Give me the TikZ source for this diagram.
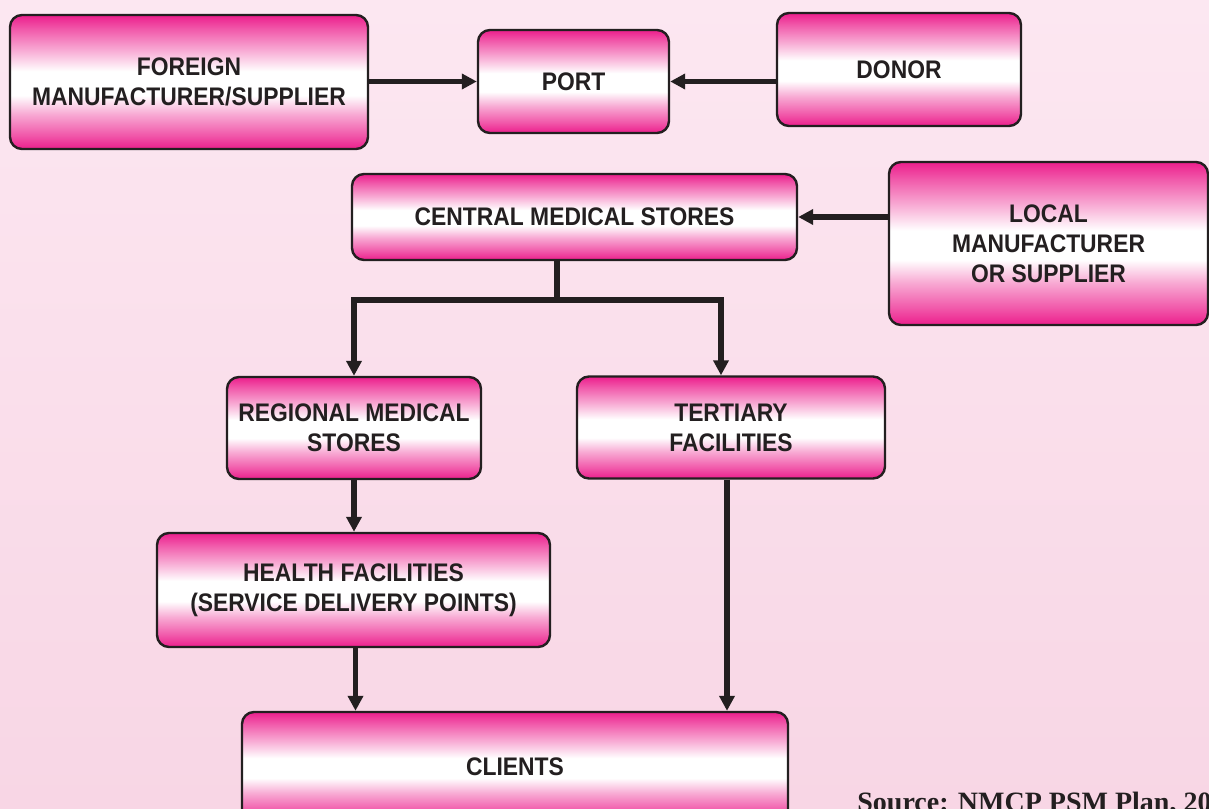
\documentclass[tikz,border=0pt]{standalone}
\usepackage{fontspec}
\setmainfont{Liberation Serif}
\newfontfamily\boxfamily[FakeStretch=0.9]{Liberation Sans}
\usetikzlibrary{arrows.meta}

\definecolor{boxpink}{RGB}{236,30,140}
\definecolor{outline}{RGB}{35,31,32}
\definecolor{bgtop}{RGB}{252,231,241}
\definecolor{bgbot}{RGB}{248,214,229}
\colorlet{pinkdeep}{boxpink!75!white}
\colorlet{pinkpale}{boxpink!38!white}

% pink - white - pink band used inside every box
\pgfdeclareverticalshading{pinkbar}{100bp}{color(0bp)=(boxpink); color(25bp)=(boxpink);
  color(30bp)=(pinkdeep); color(38bp)=(pinkpale); color(45bp)=(white); color(54bp)=(white);
  color(62bp)=(pinkpale); color(70bp)=(pinkdeep); color(75bp)=(boxpink); color(100bp)=(boxpink)}

\tikzset{
  stage/.style={draw=outline, line width=1.2pt, rounded corners=6pt, shading=pinkbar,
    inner sep=0pt, align=center, text=outline,
    font=\boxfamily\bfseries\fontsize{12.7}{15}\selectfont},
  link/.style={draw=outline, line width=2.6pt},
  flow/.style={link, -{Triangle[length=7.5pt,width=7.5pt]}},
}

\begin{document}
\begin{tikzpicture}[x=0.5pt,y=-0.5pt]
  % page
  \useasboundingbox (0,0) rectangle (1209,808);
  \shade[top color=bgtop, bottom color=bgbot] (0,0) rectangle (1209,808);

  % supply sources
  \node[stage, minimum width=179pt, minimum height=67pt] (foreign) at (189,82)
    {FOREIGN\\MANUFACTURER/SUPPLIER};
  \node[stage, minimum width=95.5pt, minimum height=51.5pt] (port) at (573.5,81.5) {PORT};
  \node[stage, minimum width=122pt, minimum height=56.5pt] (donor) at (899,69.5) {DONOR};
  \node[stage, minimum width=222.5pt, minimum height=43pt] (central) at (574.5,217)
    {CENTRAL MEDICAL STORES};
  \node[stage, minimum width=159.5pt, minimum height=81.5pt] (local) at (1048.5,243.5)
    {LOCAL\\MANUFACTURER\\OR SUPPLIER};

  % distribution levels
  \node[stage, minimum width=127pt, minimum height=51pt] (regional) at (354,428)
    {REGIONAL MEDICAL\\STORES};
  \node[stage, minimum width=154pt, minimum height=51pt] (tertiary) at (731,427.5)
    {TERTIARY\\FACILITIES};
  \node[stage, minimum width=196.5pt, minimum height=57pt] (health) at (353.5,590)
    {HEALTH FACILITIES\\(SERVICE DELIVERY POINTS)};
  \node[stage, minimum width=273pt, minimum height=55pt] (clients) at (515,767) {CLIENTS};

  % arrows into port and central stores
  \draw[flow] (foreign.east |- port.west) -- (port.west);
  \draw[flow] (donor.west |- port.east) -- (port.east);
  \draw[flow] (local.west |- central.east) -- (central.east);

  % split below central stores
  \coordinate (split) at (557,300);
  \draw[link] (split |- central.south) -- (split);
  \draw[flow] (split) -| (regional.north);
  \draw[flow] (split) -| ([xshift=-5pt]tertiary.north);

  % down to the clients
  \draw[flow] (regional.south) -- (regional.south |- health.north);
  \draw[flow] ([xshift=1pt]health.south) -- ([xshift=1pt]health.south |- clients.north);
  \draw[flow] ([xshift=-2pt]tertiary.south) -- ([xshift=-2pt]tertiary.south |- clients.north);

  % source line
  \node[anchor=base west, inner sep=0pt, text=outline, font=\bfseries\fontsize{14}{16}\selectfont]
    (source) at (857,811) {Source: NMCP PSM Plan, 20};
\end{tikzpicture}
\end{document}
